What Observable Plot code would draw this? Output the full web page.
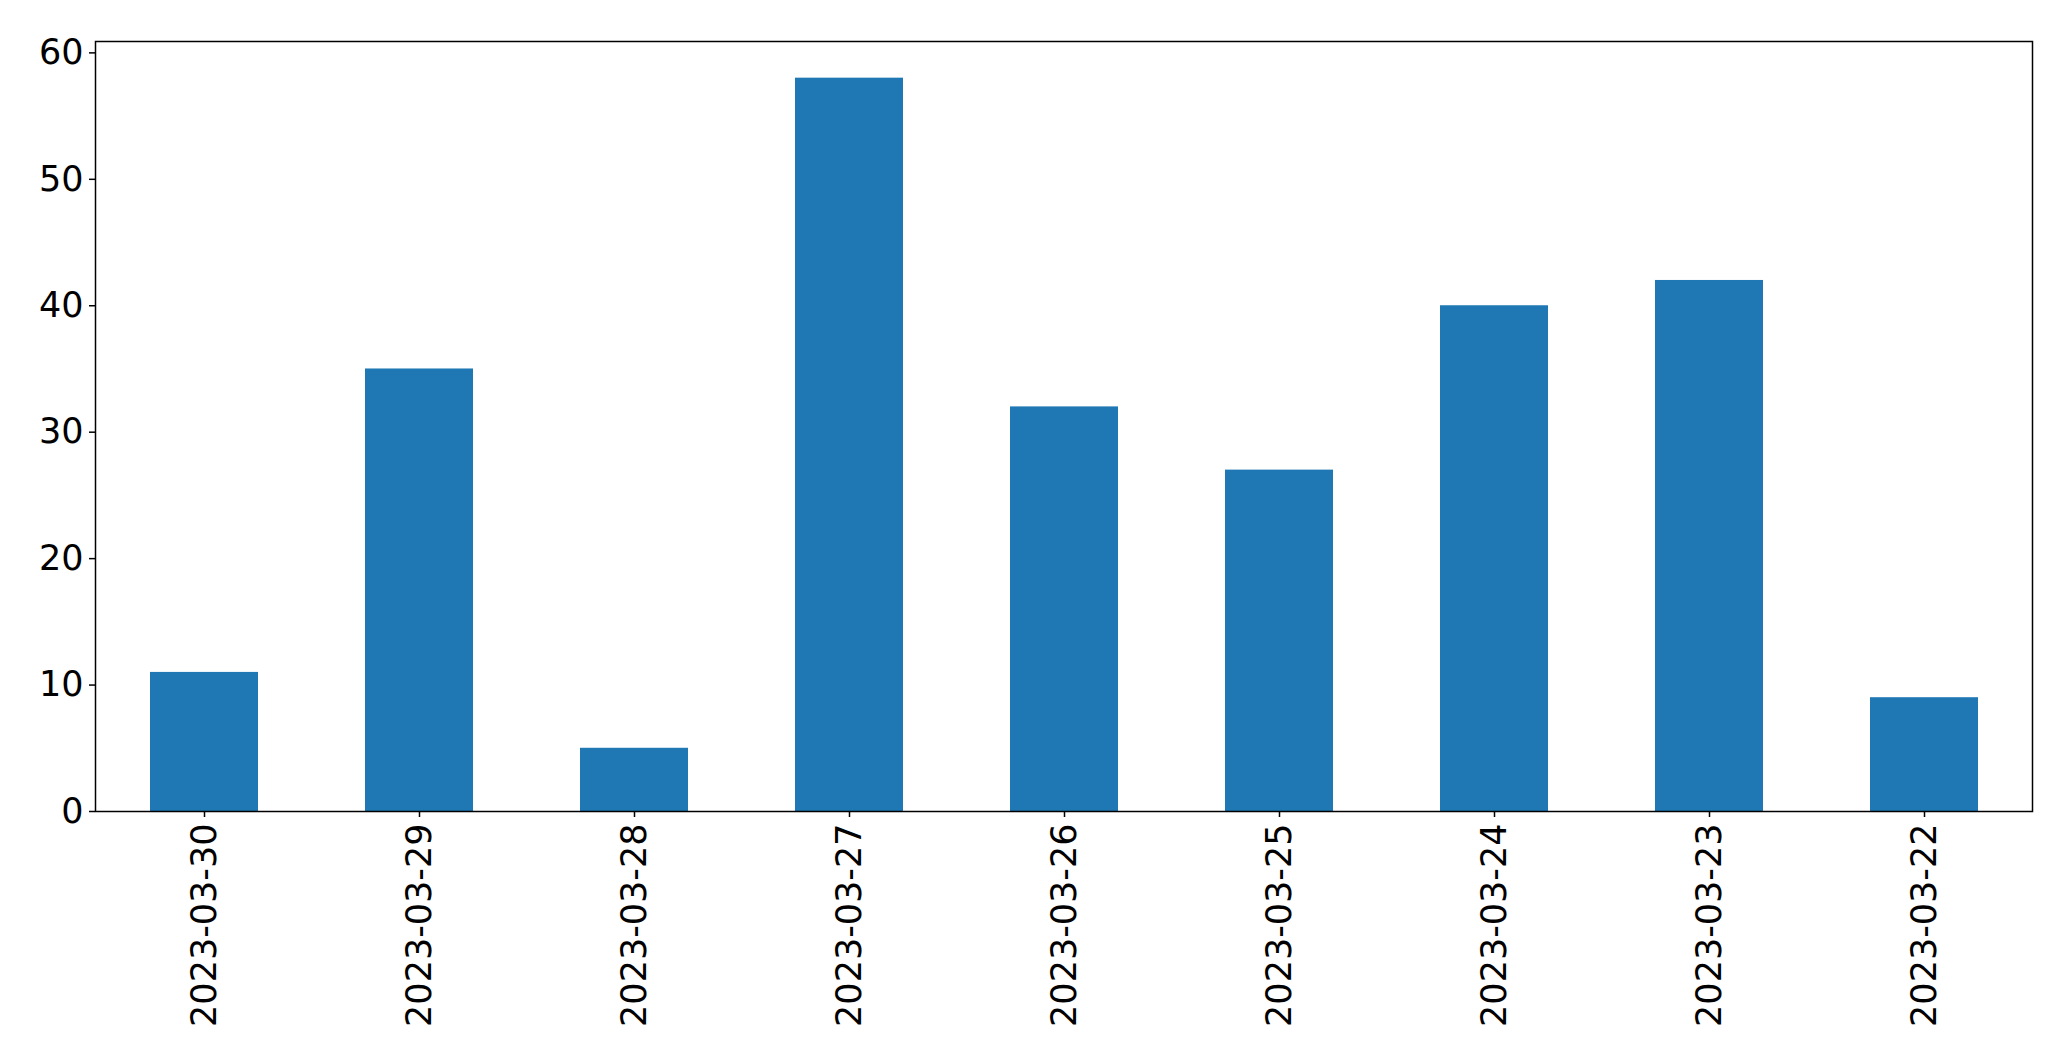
<!DOCTYPE html>
<html>
<head>
<meta charset="utf-8">
<script src="https://cdn.jsdelivr.net/npm/d3@7"></script>
<script src="https://cdn.jsdelivr.net/npm/@observablehq/plot@0.6"></script>
<style>
  html, body { margin: 0; padding: 0; background: #fff; }
  svg { display: block; }
</style>
</head>
<body>
<div id="chart"></div>
<script>
const dates = ["2023-03-30","2023-03-29","2023-03-28","2023-03-27","2023-03-26","2023-03-25","2023-03-24","2023-03-23","2023-03-22"];
const counts = [11, 35, 5, 58, 32, 27, 40, 42, 9];
const yTicks = [0, 10, 20, 30, 40, 50, 60];

const data = dates.map((d, i) => ({date: d, count: counts[i]}));

const chart = Plot.plot({
  width: 2071,
  height: 1063,
  marginLeft: 95,
  marginRight: 39,
  marginTop: 41,
  marginBottom: 252,
  style: {fontFamily: "DejaVu Sans", background: "#fff", color: "#000"},
  x: {type: "band", domain: dates, paddingInner: 0.5, paddingOuter: 0.25, align: 0.5},
  y: {domain: [0, 58 * 1.05]},
  marks: [
    Plot.barY(data, {x: "date", y: "count", fill: "#1f77b4"}),
    Plot.frame({stroke: "#000", strokeWidth: 1.5}),
    Plot.axisY({ticks: yTicks, tickSize: 6, tickPadding: 6, fontSize: 35, tickFormat: d => String(d), label: null, stroke: "#000", strokeWidth: 1.5}),
    Plot.axisX({tickSize: 6, tickPadding: 6, tickRotate: -90, fontSize: 35, label: null, stroke: "#000", strokeWidth: 1.5})
  ]
});
document.getElementById("chart").appendChild(chart);
</script>
</body>
</html>
